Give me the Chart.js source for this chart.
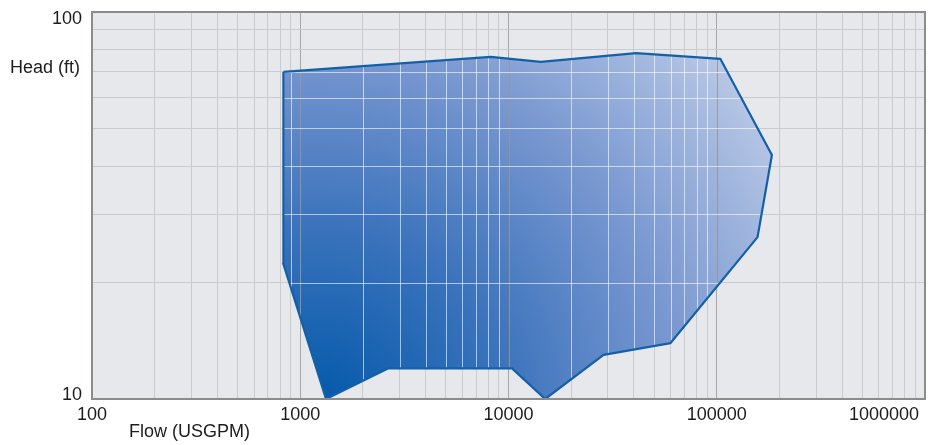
<!DOCTYPE html>
<html>
<head>
<meta charset="utf-8">
<script src="https://cdn.jsdelivr.net/npm/chart.js@4"></script>
<style>
  body { margin: 0; background: #fff; }
  canvas { display: block; }
</style>
</head>
<body>
<canvas id="chart" width="930" height="445"></canvas>
<script>
// pump coverage outline (clockwise from the top-left corner)
const flow = [830, 8200, 14300, 41000, 104000, 184000, 157000, 60000, 28600, 15000, 10400, 2650, 1330, 828, 830];
const head = [70, 76.6, 74.3, 78.3, 75.7, 42.7, 26.2, 13.95, 13.0, 10, 12, 12, 10, 22.4, 70];

// labelled ticks
const xTicks = [100, 1000, 10000, 100000, 1000000];
const yTicks = [10, 100];
// grid lines
const yGrid = [10, 20, 30, 40, 50, 60, 70, 80, 90, 100];
const xGrid = [];
[100, 1000, 10000, 100000].forEach(d => {
  for (let m = 1; m < 10; m++) xGrid.push(d * m);
});
xGrid.push(1000000);

const isDecade = v => Math.abs(Math.log10(v) - Math.round(Math.log10(v))) < 1e-6;
const font = '18px "Liberation Sans", Arial, sans-serif';

const cht = document.getElementById('chart');

// light grey plot background + frame + labels
const decor = {
  id: 'decor',
  beforeDraw(chart) {
    const { ctx, chartArea: a } = chart;
    ctx.save();
    ctx.fillStyle = '#e6e8eb';
    ctx.fillRect(a.left, a.top, a.right - a.left, a.bottom - a.top);
    ctx.restore();
  },
  // white grid lines seen through the coloured area
  beforeDatasetDraw(chart) {
    const { ctx, chartArea: a } = chart;
    const pts = chart.getDatasetMeta(0).data;
    ctx.save();
    ctx.beginPath();
    pts.forEach((p, i) => i ? ctx.lineTo(p.x, p.y) : ctx.moveTo(p.x, p.y));
    ctx.closePath();
    ctx.clip();
    ctx.lineWidth = 1;
    chart.scales.x.ticks.forEach(t => {
      const px = Math.round(chart.scales.x.getPixelForValue(t.value)) + 0.5;
      ctx.strokeStyle = isDecade(t.value) ? 'rgba(150,150,150,0.9)' : 'rgba(255,255,255,0.6)';
      ctx.beginPath(); ctx.moveTo(px, a.top); ctx.lineTo(px, a.bottom); ctx.stroke();
    });
    chart.scales.y.ticks.forEach(t => {
      const py = Math.round(chart.scales.y.getPixelForValue(t.value)) + 0.5;
      ctx.strokeStyle = isDecade(t.value) ? 'rgba(150,150,150,0.9)' : 'rgba(255,255,255,0.6)';
      ctx.beginPath(); ctx.moveTo(a.left, py); ctx.lineTo(a.right, py); ctx.stroke();
    });
    ctx.restore();
  },
  afterDraw(chart) {
    const { ctx, chartArea: a } = chart;
    const xs = chart.scales.x, ys = chart.scales.y;
    ctx.save();
    ctx.strokeStyle = '#8c8c8c';
    ctx.lineWidth = 2;
    ctx.strokeRect(a.left, a.top, a.right - a.left, a.bottom - a.top);

    ctx.fillStyle = '#1c1c1c';
    ctx.font = font;
    ctx.textBaseline = 'middle';
    xTicks.forEach((v, i) => {
      const last = i === xTicks.length - 1;
      ctx.textAlign = last ? 'right' : 'center';
      ctx.fillText(String(v), xs.getPixelForValue(v) - (last ? 6 : 0), a.bottom + 16);
    });
    ctx.textAlign = 'right';
    ctx.fillText(String(yTicks[1]), a.left - 10, ys.getPixelForValue(yTicks[1]) + 7);
    ctx.fillText(String(yTicks[0]), a.left - 10, ys.getPixelForValue(yTicks[0]) - 4);

    ctx.textAlign = 'left';
    ctx.fillText('Head (ft)', 10, 68);
    ctx.fillText('Flow (USGPM)', 129, 432);
    ctx.restore();
  }
};

const gridColor = c => isDecade(c.tick.value) ? '#a6a6a6' : '#c9cbce';

new Chart(cht, {
  type: 'scatter',
  data: {
    datasets: [{
      data: flow.map((f, i) => ({ x: f, y: head[i] })),
      showLine: true,
      fill: 'shape',
      tension: 0,
      pointRadius: 0,
      borderWidth: 2.2,
      borderColor: '#1460a8',
      borderJoinStyle: 'round',
      backgroundColor(context) {
        const { ctx, chartArea: a, scales } = context.chart;
        if (!a) return 'rgba(60,110,190,0.8)';
        const cx = scales.x.getPixelForValue(1200);
        const g = ctx.createRadialGradient(cx, a.bottom + 15, 0, cx, a.bottom + 15, 540);
        g.addColorStop(0, '#0058a9');
        g.addColorStop(0.35, '#3b73bc');
        g.addColorStop(0.65, '#7595cf');
        g.addColorStop(1, '#b9c8e6');
        return g;
      }
    }]
  },
  options: {
    responsive: false,
    animation: false,
    layout: { padding: { left: 92, top: 12, right: 5, bottom: 46 } },
    plugins: {
      legend: { display: false },
      tooltip: { enabled: false },
      filler: { drawTime: 'beforeDatasetsDraw' }
    },
    scales: {
      x: {
        type: 'logarithmic',
        min: 100,
        max: 1000000,
        afterBuildTicks: s => { s.ticks = xGrid.map(v => ({ value: v })); },
        ticks: { display: false },
        border: { display: false },
        grid: { drawTicks: false, color: gridColor }
      },
      y: {
        type: 'logarithmic',
        min: 10,
        max: 100,
        afterBuildTicks: s => { s.ticks = yGrid.map(v => ({ value: v })); },
        ticks: { display: false },
        border: { display: false },
        grid: { drawTicks: false, color: gridColor }
      }
    }
  },
  plugins: [decor]
});
</script>
</body>
</html>
